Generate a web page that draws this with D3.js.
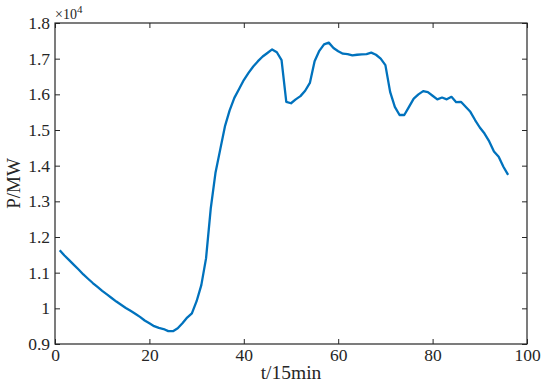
<!DOCTYPE html>
<html>
<head>
<meta charset="utf-8">
<script src="https://cdn.jsdelivr.net/npm/d3@7"></script>
<style>
  body { margin: 0; background: #fff; }
  svg text { font-family: "Times New Roman", "Liberation Serif", serif; fill: #262626; }
</style>
</head>
<body>
<div id="chart"></div>
<script>
// Datos: carga por intervalo de 15 min (x10^4 MW)
const tLabels = d3.range(1, 97);
const loadValues = [
  1.163, 1.148, 1.135, 1.122, 1.109, 1.095, 1.083, 1.071, 1.060, 1.049,
  1.039, 1.029, 1.019, 1.010, 1.001, 0.993, 0.985, 0.976, 0.966, 0.958,
  0.950, 0.945, 0.942, 0.936, 0.936, 0.944, 0.958, 0.974, 0.986, 1.020,
  1.065, 1.140, 1.280, 1.380, 1.445, 1.510, 1.555, 1.590, 1.615, 1.640,
  1.660, 1.678, 1.693, 1.706, 1.716, 1.726, 1.718, 1.696, 1.579, 1.575,
  1.586, 1.595, 1.610, 1.632, 1.693, 1.722, 1.740, 1.745, 1.730, 1.721,
  1.714, 1.713, 1.709, 1.711, 1.712, 1.713, 1.717, 1.711, 1.700, 1.682,
  1.607, 1.565, 1.542, 1.542, 1.565, 1.588, 1.600, 1.609, 1.606, 1.596,
  1.586, 1.591, 1.586, 1.593, 1.578, 1.579, 1.565, 1.551, 1.528, 1.507,
  1.490, 1.468, 1.440, 1.425, 1.397, 1.374
];
const xTicks = [0, 20, 40, 60, 80, 100];
const yTicks = [0.9, 1, 1.1, 1.2, 1.3, 1.4, 1.5, 1.6, 1.7, 1.8];

const FONT = '"Times New Roman", "Liberation Serif", serif';
const W = 550, H = 386;
let margin = {top: 23, right: 23, bottom: 42, left: 55},
    width = W - margin.left - margin.right,
    height = H - margin.top - margin.bottom;

let svg = d3.select('#chart').append('svg')
    .attr('width', W)
    .attr('height', H)
  .append('g')
    .attr('transform', 'translate(' + margin.left + ',' + margin.top + ')');

let x = d3.scaleLinear().domain([0, 100]).range([0, width]);
let y = d3.scaleLinear().domain([0.9, 1.8]).range([height, 0]);

//Ejes con ticks hacia dentro
function styleAxis(g) {
    g.attr('font-family', FONT);
    g.select('.domain').remove();
    g.selectAll('.tick line').attr('stroke', '#262626');
    g.selectAll('.tick text').style('font-size', '17.5px').style('font-family', FONT);
}

svg.append('g')
    .attr('transform', 'translate(0,' + height + ')')
    .call(d3.axisBottom(x).tickValues(xTicks).tickSizeInner(-5).tickPadding(5))
    .call(styleAxis);

svg.append('g')
    .call(d3.axisTop(x).tickValues(xTicks).tickSizeInner(-5).tickFormat(''))
    .call(styleAxis);

svg.append('g')
    .call(d3.axisLeft(y).tickValues(yTicks).tickSizeInner(-5).tickPadding(5)
        .tickFormat(function(d) { return d3.format('~g')(d); }))
    .call(styleAxis);

svg.append('g')
    .attr('transform', 'translate(' + width + ',0)')
    .call(d3.axisRight(y).tickValues(yTicks).tickSizeInner(-5).tickFormat(''))
    .call(styleAxis);

//Caja
svg.append('rect')
    .attr('width', width)
    .attr('height', height)
    .attr('fill', 'none')
    .attr('stroke', '#262626')
    .attr('stroke-width', 1.2);

//Curva
let line = d3.line()
    .x(function(d, i) { return x(tLabels[i]); })
    .y(function(d) { return y(d); });

svg.append('path')
    .datum(loadValues)
    .attr('fill', 'none')
    .attr('stroke', '#0072BD')
    .attr('stroke-width', 2.3)
    .attr('stroke-linejoin', 'round')
    .attr('d', line);

//Multiplicador
let mult = svg.append('text')
    .attr('x', 0)
    .attr('y', -4)
    .style('font-size', '14px');
mult.append('tspan').text('×10');
mult.append('tspan').attr('dy', -6).style('font-size', '11px').text('4');

//Etiquetas de ejes
svg.append('text')
    .attr('x', width / 2)
    .attr('y', height + 35)
    .attr('text-anchor', 'middle')
    .style('font-size', '19.5px')
    .text('t/15min');

svg.append('text')
    .attr('transform', 'translate(' + (-35) + ',' + (height / 2) + ') rotate(-90)')
    .attr('text-anchor', 'middle')
    .style('font-size', '19px')
    .text('P/MW');
</script>
</body>
</html>
